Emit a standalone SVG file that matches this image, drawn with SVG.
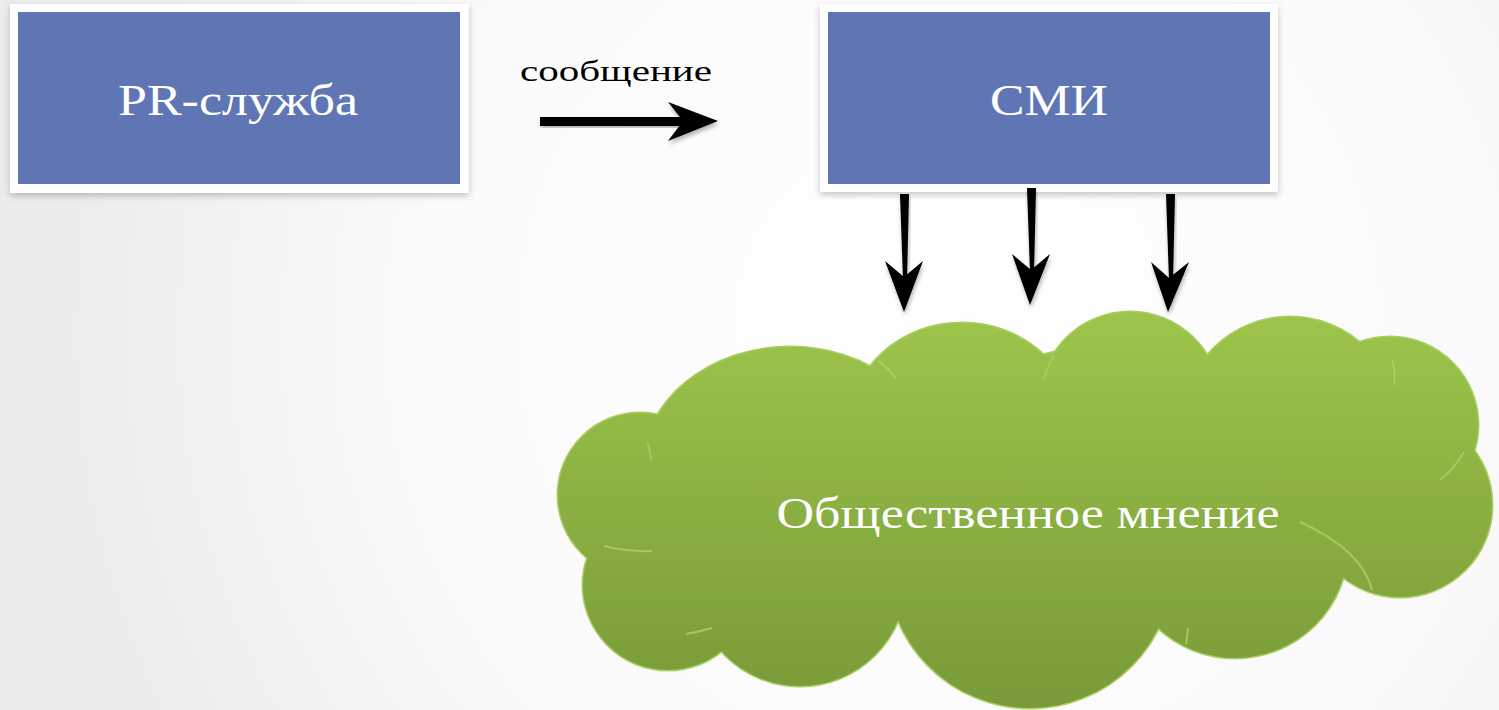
<svg xmlns="http://www.w3.org/2000/svg" width="1499" height="710" viewBox="0 0 1499 710">
<defs>
<radialGradient id="bg" cx="950" cy="330" r="900" gradientUnits="userSpaceOnUse">
<stop offset="0" stop-color="#ffffff"/>
<stop offset="0.6" stop-color="#fafafa"/>
<stop offset="1" stop-color="#ececec"/>
</radialGradient>
<linearGradient id="cg" x1="0" y1="312" x2="0" y2="708" gradientUnits="userSpaceOnUse">
<stop offset="0" stop-color="#9DC54B"/>
<stop offset="1" stop-color="#789A39"/>
</linearGradient>
<filter id="sh" x="-10%" y="-10%" width="120%" height="130%">
<feDropShadow dx="0" dy="3" stdDeviation="3" flood-color="#000" flood-opacity="0.22"/>
</filter>
<filter id="ash" x="-20%" y="-20%" width="140%" height="140%">
<feDropShadow dx="1" dy="3" stdDeviation="2" flood-color="#000" flood-opacity="0.3"/>
</filter>
<g id="blobs">
<circle cx="640" cy="495" r="82"/>
<circle cx="668" cy="585" r="85"/>
<circle cx="800" cy="580" r="106"/>
<circle cx="1030" cy="565" r="143"/>
<circle cx="1235" cy="545" r="113"/>
<circle cx="1400" cy="505" r="92"/>
<circle cx="1390" cy="425" r="88"/>
<circle cx="1290" cy="425" r="108"/>
<circle cx="1130" cy="402" r="90"/>
<ellipse cx="962" cy="425" rx="112" ry="102"/>
<ellipse cx="790" cy="470" rx="148" ry="123"/>
<circle cx="1080" cy="500" r="150"/>
</g>
<clipPath id="cloudclip">
<circle cx="640" cy="495" r="80"/>
<circle cx="668" cy="585" r="83"/>
<circle cx="800" cy="580" r="104"/>
<circle cx="1030" cy="565" r="141"/>
<circle cx="1235" cy="545" r="111"/>
<circle cx="1400" cy="505" r="90"/>
<circle cx="1390" cy="425" r="86"/>
<circle cx="1290" cy="425" r="106"/>
<circle cx="1130" cy="402" r="88"/>
<ellipse cx="962" cy="425" rx="110" ry="100"/>
<ellipse cx="790" cy="470" rx="146" ry="121"/>
<circle cx="1080" cy="500" r="148"/>
</clipPath>
<style>
.frame{fill:#ffffff;filter:url(#sh)}
.box{fill:#6076B4}
.lbl{font-family:"Liberation Serif","DejaVu Serif",serif;fill:#ffffff;text-anchor:middle}
.arr{fill:#000000;filter:url(#ash)}
.co{fill:url(#cg);stroke:#A9CF63;stroke-width:3}
.ci{fill:url(#cg)}
.arc{fill:none;stroke:#A9CF63;stroke-width:2;opacity:0.85}
</style>
</defs>
<rect width="1499" height="710" fill="url(#bg)"/>

<g id="pr">
<rect class="frame" x="10" y="4" width="459" height="189"/>
<rect class="box" x="18" y="12" width="442" height="172"/>
<text class="lbl" x="238" y="115" font-size="44" textLength="240" lengthAdjust="spacingAndGlyphs">PR-служба</text>
</g>

<g id="smi">
<rect class="frame" x="820" y="4" width="458" height="188"/>
<rect class="box" x="828" y="12" width="442" height="172"/>
<text class="lbl" x="1049" y="115" font-size="44" textLength="118" lengthAdjust="spacingAndGlyphs">СМИ</text>
</g>

<g id="opinion">
<use href="#blobs" class="co"/>
<use href="#blobs" class="ci"/>
<g clip-path="url(#cloudclip)">
<path class="arc" d="M862 352 Q882 360 896 378"/>
<path class="arc" d="M1060 345 Q1050 360 1044 378"/>
<path class="arc" d="M1392 360 Q1396 372 1394 385"/>
<path class="arc" d="M1464 452 Q1455 468 1440 480"/>
<path class="arc" d="M1300 522 Q1362 550 1372 590"/>
<path class="arc" d="M1188 628 Q1185 660 1178 690"/>
<path class="arc" d="M906 652 Q912 672 922 692"/>
<path class="arc" d="M686 634 Q698 632 712 628"/>
<path class="arc" d="M604 546 Q628 552 652 551"/>
<path class="arc" d="M648 443 Q649 452 652 460"/>
</g>
<text class="lbl" x="1028" y="528" font-size="44" textLength="503" lengthAdjust="spacingAndGlyphs">Общественное мнение</text>
</g>

<g id="connectors">
<g id="msg">
<rect class="arr" x="540" y="117" width="145" height="9"/>
<polygon class="arr" points="718,121 668,102 683,121 668,141"/>
<text x="616" y="81" font-family="Liberation Serif, DejaVu Serif, serif" font-size="30" fill="#000" text-anchor="middle" textLength="192" lengthAdjust="spacingAndGlyphs">сообщение</text>
</g>
<g id="down1">
<polygon class="arr" points="900,194 909,194 907,280 903,280"/>
<polygon class="arr" points="904,312 885,261 904,277 923,261"/>
</g>
<g id="down2">
<polygon class="arr" points="1027,188 1036,188 1034,272 1030,272"/>
<polygon class="arr" points="1030,305 1012,254 1031,270 1050,254"/>
</g>
<g id="down3">
<polygon class="arr" points="1166,194 1175,194 1173,280 1169,280"/>
<polygon class="arr" points="1168,312 1151,262 1169,278 1189,262"/>
</g>
</g>
</svg>
